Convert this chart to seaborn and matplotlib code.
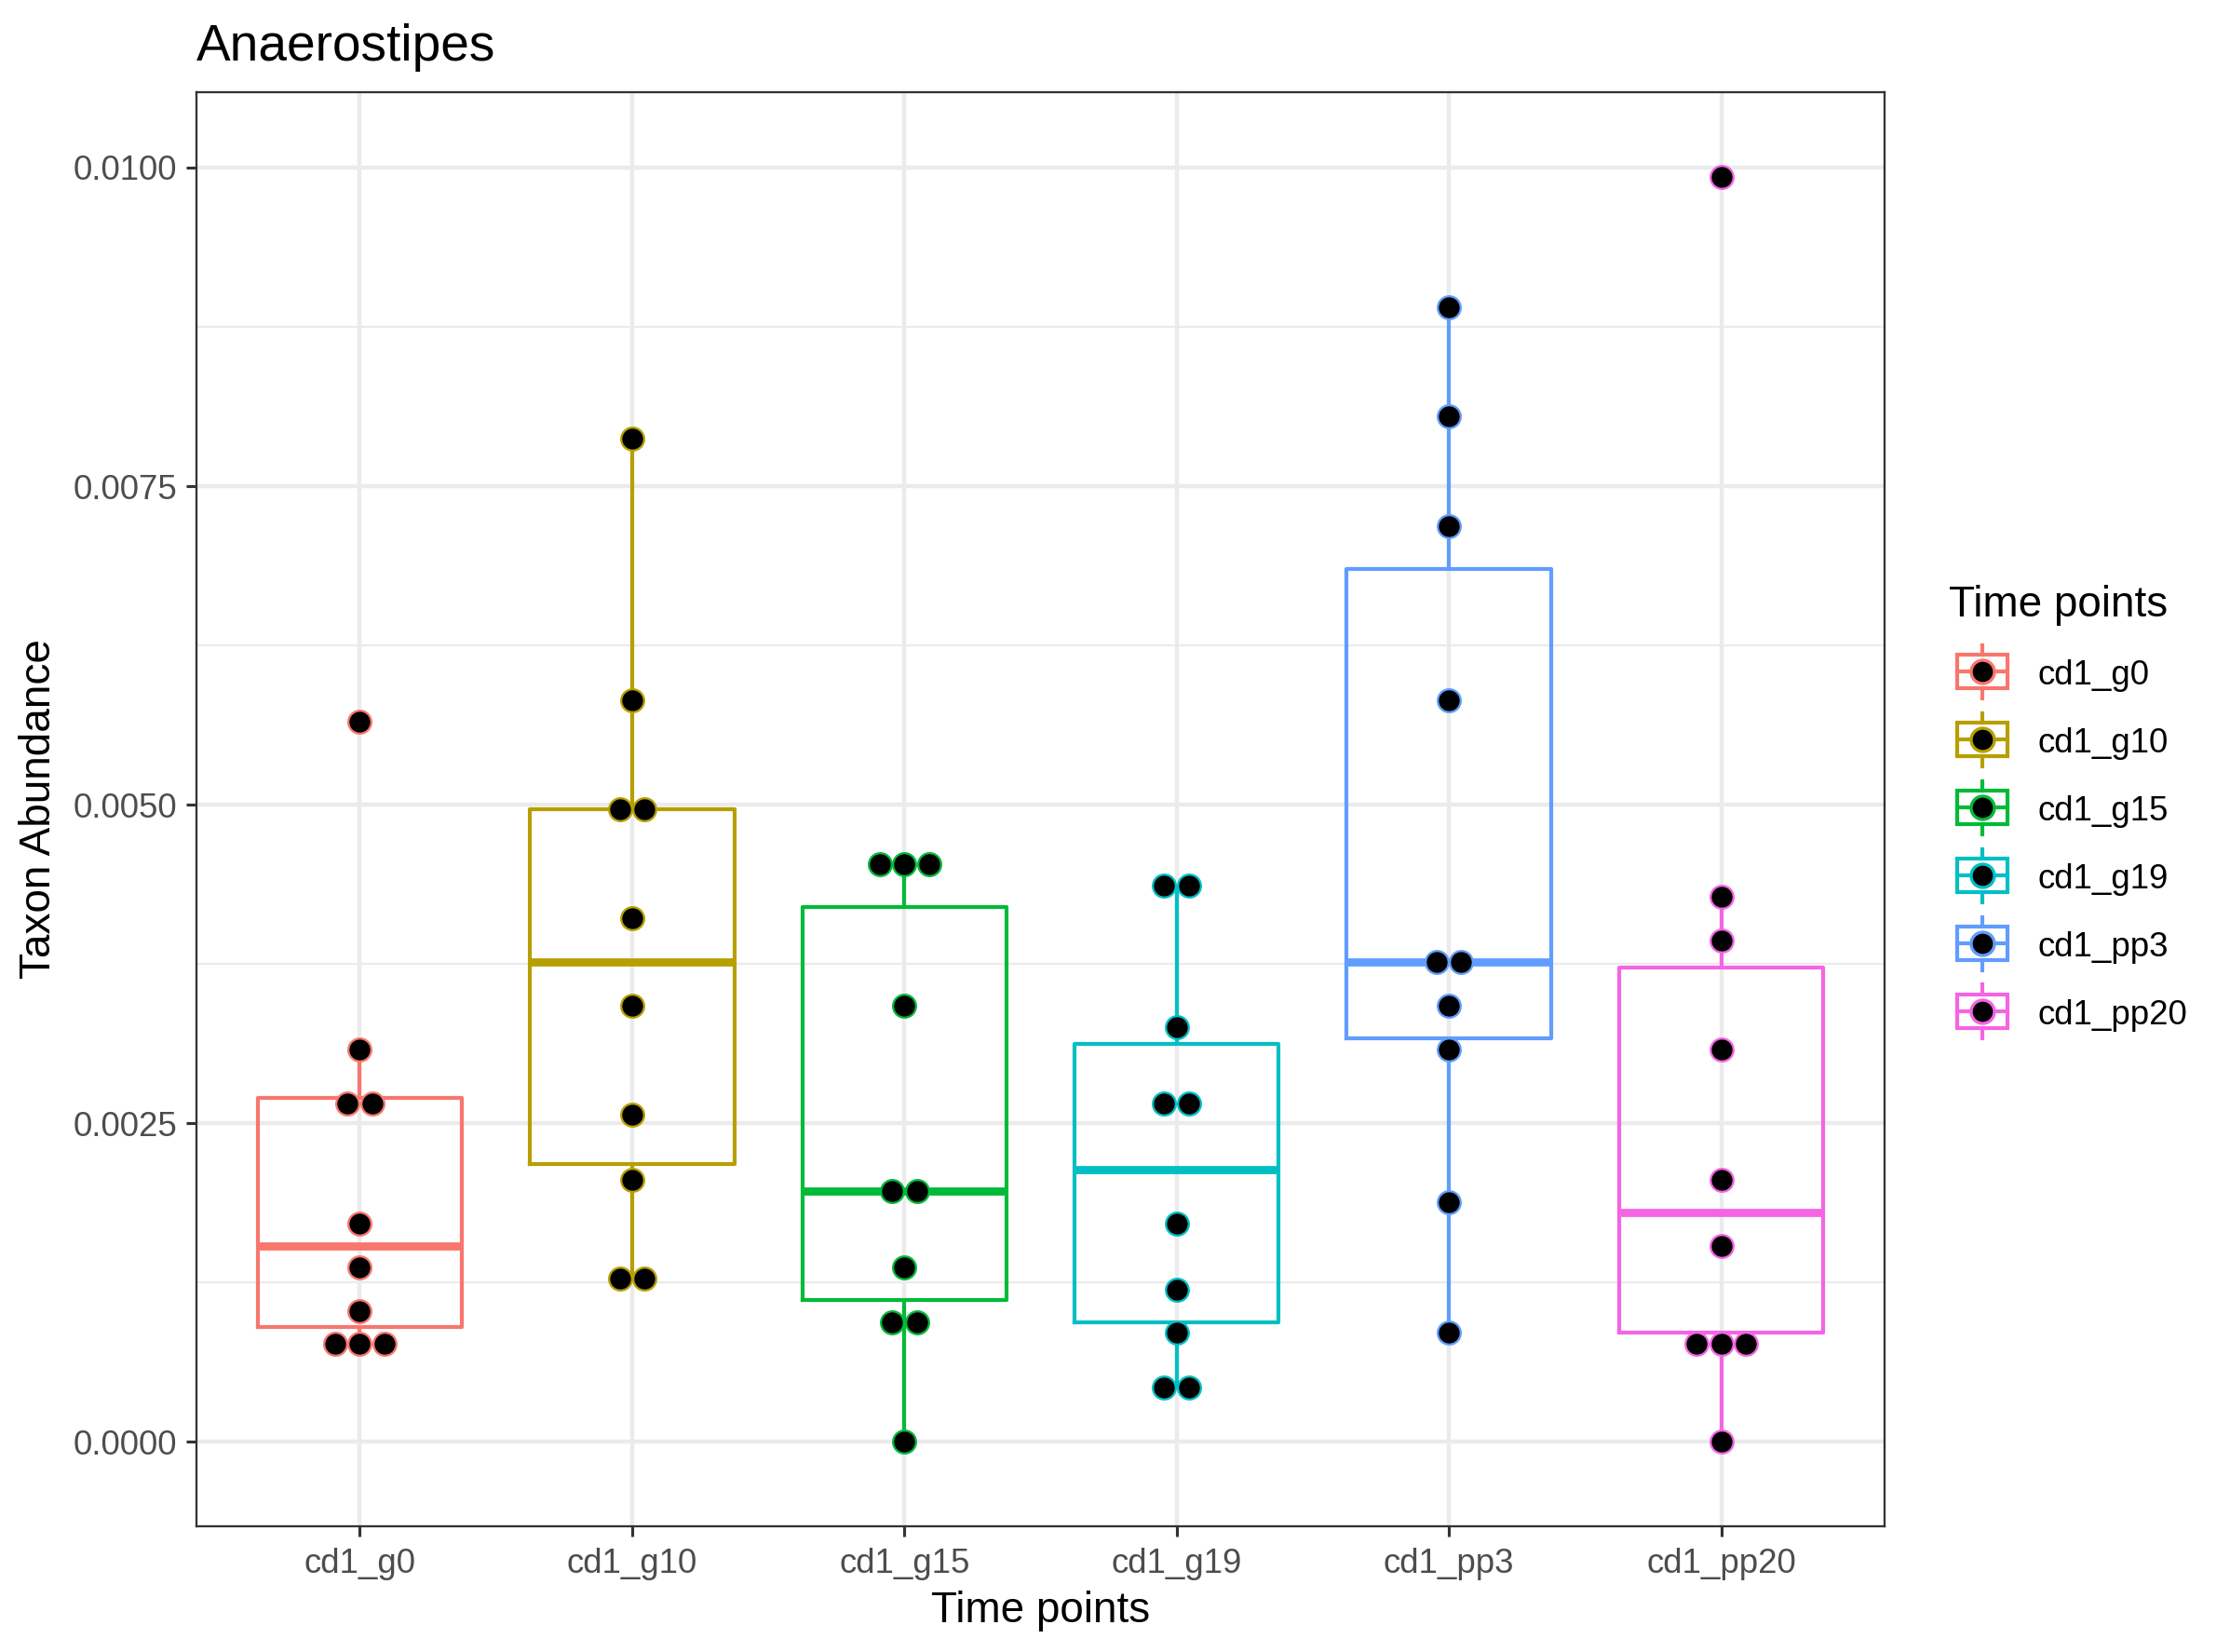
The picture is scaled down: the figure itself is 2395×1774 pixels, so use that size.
import numpy as np
import pandas as pd
import matplotlib
matplotlib.use("Agg")
import matplotlib.pyplot as plt
import seaborn as sns
from matplotlib.legend_handler import HandlerBase
from matplotlib.patches import Rectangle
from matplotlib.lines import Line2D
from matplotlib.ticker import FixedLocator, StrMethodFormatter

# ---------------- data ----------------
time_points = ["cd1_g0", "cd1_g10", "cd1_g15", "cd1_g19", "cd1_pp3", "cd1_pp20"]
colors = ["#F8766D", "#B79F00", "#00BA38", "#00BFC4", "#619CFF", "#F564E3"]

cd1_g0 = [0.000685, 0.000770, 0.000856, 0.001027, 0.001370, 0.001712, 0.002568, 0.002739, 0.003082, 0.005650]
cd1_g10 = [0.001284, 0.001284, 0.002054, 0.002568, 0.003424, 0.004109, 0.004965, 0.004965, 0.005821, 0.007875]
cd1_g15 = [0.000000, 0.000856, 0.001027, 0.001370, 0.001969, 0.001969, 0.003424, 0.004451, 0.004537, 0.004622]
cd1_g19 = [0.000428, 0.000428, 0.000856, 0.001198, 0.001712, 0.002568, 0.002739, 0.003253, 0.004366, 0.004366]
cd1_pp3 = [0.000856, 0.001883, 0.003082, 0.003424, 0.003766, 0.003766, 0.005821, 0.007190, 0.008046, 0.008902]
cd1_pp20 = [0.000000, 0.000685, 0.000856, 0.000856, 0.001541, 0.002054, 0.003082, 0.003938, 0.004280, 0.009930]

y_ticks = [0.0, 0.0025, 0.005, 0.0075, 0.01]
y_minor = [0.00125, 0.00375, 0.00625, 0.00875]

groups = [cd1_g0, cd1_g10, cd1_g15, cd1_g19, cd1_pp3, cd1_pp20]
df = pd.DataFrame({
    "time": np.repeat(time_points, [len(g) for g in groups]),
    "abundance": np.concatenate(groups),
})

# ---------------- style ----------------
FONT = ["Liberation Sans", "DejaVu Sans"]
plt.rcParams["font.family"] = FONT
TXT_GREY = "#4D4D4D"
GRID = "#EBEBEB"
BORDER = "#333333"

W, H, DPI = 2395, 1774, 300
fig = plt.figure(figsize=(W / DPI, H / DPI), dpi=DPI)
px_l, px_r, px_t, px_b = 211, 2024, 99, 1639
ax = fig.add_axes([px_l / W, 1 - px_b / H, (px_r - px_l) / W, (px_b - px_t) / H])

BINWIDTH = 0.0003   # dotplot bin width (data units)
DOTSIZE = 0.65

# y range like ggplot: dot extents + 5% expansion
all_vals = df["abundance"].values
lo = all_vals.min() - BINWIDTH / 2
hi = all_vals.max() + BINWIDTH / 2
span = hi - lo
ylim = (lo - 0.05 * span, hi + 0.05 * span)
xlim = (-0.6, len(time_points) - 1 + 0.6)

# ---------------- boxplot ----------------
sns.boxplot(
    data=df, x="time", y="abundance", hue="time",
    order=time_points, hue_order=time_points, palette=colors,
    fill=False, width=0.75, showfliers=False, showcaps=False, whis=1.5,
    linewidth=1.0, medianprops=dict(linewidth=2.1), legend=False, ax=ax,
)

ax.set_xlim(*xlim)
ax.set_ylim(*ylim)

# ---------------- dotplot (dotdensity binning, centred stacks) ----------------
panel_h = px_b - px_t
panel_w = px_r - px_l
dot_px = BINWIDTH * DOTSIZE / (ylim[1] - ylim[0]) * panel_h
dot_dx = dot_px / panel_w * (xlim[1] - xlim[0])
dot_pt = dot_px * 72 / DPI


def dot_bins(values, bw):
    vals = np.sort(np.asarray(values, dtype=float))
    bins, binend = [], -np.inf
    for v in vals:
        if v >= binend:
            binend = v + bw
            bins.append([])
        bins[-1].append(v)
    return [((min(b) + max(b)) / 2, len(b)) for b in bins]


for i, (vals, col) in enumerate(zip(groups, colors)):
    xs, ys = [], []
    for center, n in dot_bins(vals, BINWIDTH):
        for k in range(n):
            xs.append(i + (k - (n - 1) / 2) * dot_dx)
            ys.append(center)
    sns.scatterplot(x=np.array(xs), y=np.array(ys), color="black", edgecolor=col,
                    s=(dot_pt - 0.5) ** 2, linewidth=0.55, ax=ax, zorder=4, legend=False)

ax.set_xlim(*xlim)
ax.set_ylim(*ylim)

# ---------------- axes styling ----------------
ax.set_axisbelow(True)
ax.yaxis.set_major_locator(FixedLocator(y_ticks))
ax.yaxis.set_minor_locator(FixedLocator(y_minor))
ax.yaxis.set_major_formatter(StrMethodFormatter("{x:.4f}"))
ax.grid(True, which="major", axis="both", color=GRID, linewidth=1.07)
ax.grid(True, which="minor", axis="y", color=GRID, linewidth=0.55)
ax.tick_params(which="minor", length=0)
ax.tick_params(which="major", length=2.75, width=0.75, color=BORDER,
               labelsize=8.8, labelcolor=TXT_GREY, pad=2.2)
ax.tick_params(axis="x", pad=2.7)
for s in ax.spines.values():
    s.set_color(BORDER)
    s.set_linewidth(0.55)
    s.set_zorder(6)

ax.set_xlabel("Time points", fontsize=11, color="black", labelpad=2.6)
ax.set_ylabel("Taxon Abundance", fontsize=11, color="black", labelpad=3.5)
ax.set_title("Anaerostipes", loc="left", fontsize=13.2, color="black", pad=8.2)

# ---------------- legend ----------------
KEY_PT = 17.28
LEG_FS = 8.8


class BoxDotHandler(HandlerBase):
    def create_artists(self, legend, orig_handle, xdescent, ydescent,
                       width, height, fontsize, trans):
        col = orig_handle.get_color()
        S = KEY_PT
        x0 = -xdescent + width / 2 - S / 2
        yc = 3.2
        y0 = yc - S / 2
        arts = []
        arts.append(Rectangle((x0 + 0.125 * S, y0 + 0.25 * S), 0.75 * S, 0.5 * S,
                              facecolor="white", edgecolor=col, linewidth=1.0))
        arts.append(Line2D([x0 + 0.125 * S, x0 + 0.875 * S], [yc, yc], color=col, linewidth=1.0))
        arts.append(Line2D([x0 + 0.5 * S] * 2, [y0 + 0.1 * S, y0 + 0.25 * S], color=col, linewidth=1.0))
        arts.append(Line2D([x0 + 0.5 * S] * 2, [y0 + 0.75 * S, y0 + 0.9 * S], color=col, linewidth=1.0))
        arts.append(Line2D([x0 + 0.5 * S], [yc], marker="o", markersize=6.0,
                           markerfacecolor="black", markeredgecolor=col,
                           markeredgewidth=0.8, linestyle="none"))
        for a in arts:
            a.set_transform(trans)
        return arts


handles = [Line2D([], [], color=c) for c in colors]
leg = fig.legend(
    handles, time_points, title="Time points",
    loc="center left", bbox_to_anchor=(2093 / W, 1 - 869 / H),
    frameon=False, fontsize=LEG_FS, title_fontsize=11,
    handlelength=KEY_PT / LEG_FS, handleheight=1.5,
    labelspacing=0.77, handletextpad=0.63,
    borderpad=0, borderaxespad=0, alignment="left",
    handler_map={Line2D: BoxDotHandler()},
)

fig.savefig("out.png", dpi=DPI, facecolor="white")
